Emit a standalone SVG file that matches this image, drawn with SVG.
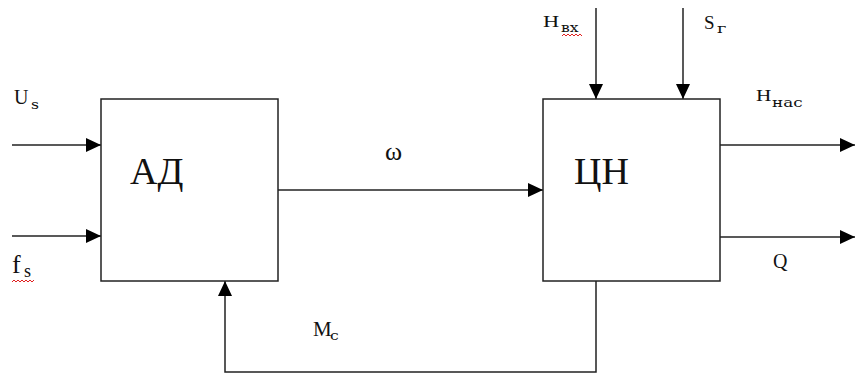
<svg xmlns="http://www.w3.org/2000/svg" width="856" height="374" viewBox="0 0 856 374">
<defs>
<style>
.box{fill:#fff;stroke:#222;stroke-width:1.5}
.ln{fill:none;stroke:#222;stroke-width:1.5}
.big{font-family:"Liberation Serif","Times New Roman",serif;font-size:38px;fill:#111}
.lab{font-family:"Liberation Serif","Times New Roman",serif;fill:#111}
.sub{font-family:"DejaVu Serif","Liberation Serif",serif;font-size:12px;fill:#111}
.sq{fill:none;stroke:#e02020;stroke-width:1}
</style>
<marker id="ah" markerUnits="userSpaceOnUse" markerWidth="15" markerHeight="14" refX="15" refY="7" orient="auto">
<path d="M0,0 L15,7 L0,14 z" fill="#000"/>
</marker>
</defs>
<rect width="856" height="374" fill="#fff"/>
<g id="connectors">
<line class="ln" x1="12" y1="145" x2="101" y2="145" marker-end="url(#ah)"/>
<line class="ln" x1="12" y1="236" x2="101" y2="236" marker-end="url(#ah)"/>
<line class="ln" x1="278" y1="190" x2="543" y2="190" marker-end="url(#ah)"/>
<line class="ln" x1="596" y1="8" x2="596" y2="99" marker-end="url(#ah)"/>
<line class="ln" x1="683" y1="8" x2="683" y2="99" marker-end="url(#ah)"/>
<line class="ln" x1="720" y1="145" x2="855" y2="145" marker-end="url(#ah)"/>
<line class="ln" x1="720" y1="237" x2="855" y2="237" marker-end="url(#ah)"/>
<polyline class="ln" points="596,281 596,372 225,372 225,281" marker-end="url(#ah)"/>
</g>
<g id="node-ad">
<rect class="box" x="101" y="99" width="177" height="182"/>
<text class="big" x="130" y="184">АД</text>
</g>
<g id="node-cn">
<rect class="box" x="543" y="99" width="177" height="182"/>
<text class="big" x="574" y="184">ЦН</text>
</g>
<g id="labels">
<text class="lab" x="14" y="104" font-size="20">U</text>
<text class="sub" transform="translate(31,109) scale(1.3,1)">s</text>
<text class="lab" x="12" y="273" font-size="26">f</text>
<text class="lab" x="24" y="277" font-size="18">s</text>
<path class="sq" d="M12,282 l2,-2 l2,2 l2,-2 l2,2 l2,-2 l2,2 l2,-2 l2,2 l2,-2 l2,2 l2,-2"/>
<text class="lab" x="385" y="160" font-size="26">ω</text>
<text class="lab" transform="translate(543,27) scale(1.4,1)" font-size="16">H</text>
<text class="sub" transform="translate(561,32) scale(1.3,1)">вх</text>
<path class="sq" d="M562,36 l2,-2 l2,2 l2,-2 l2,2 l2,-2 l2,2 l2,-2 l2,2 l2,-2 l2,2"/>
<text class="lab" x="704" y="29" font-size="19">S</text>
<text class="sub" transform="translate(717,33) scale(1.5,1)">г</text>
<text class="lab" transform="translate(756,101) scale(1.25,1)" font-size="17">H</text>
<text class="sub" transform="translate(772,107) scale(1.4,1)">нас</text>
<text class="lab" x="773" y="268" font-size="20">Q</text>
<text class="lab" x="313" y="336" font-size="21">M</text>
<text class="sub" transform="translate(330,340) scale(1.3,1)">с</text>
</g>
</svg>
